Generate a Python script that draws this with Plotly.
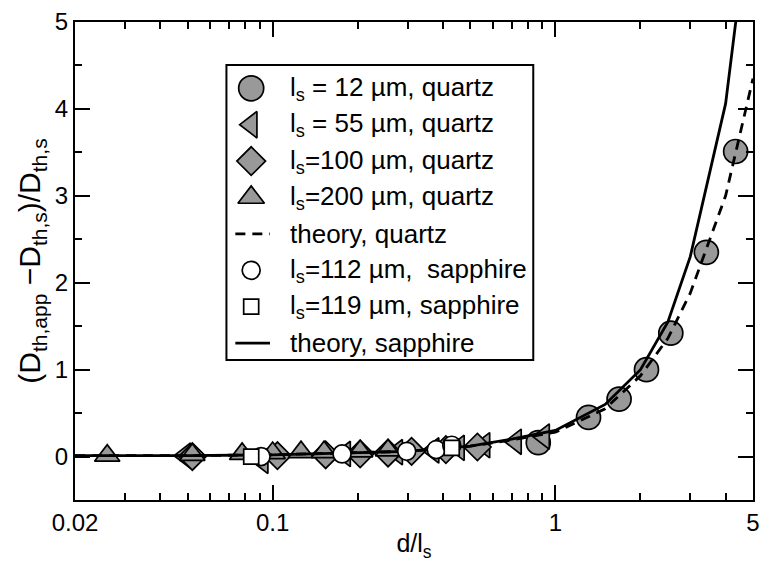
import plotly.graph_objects as go

# ---- measured data (d / l_s  vs  (D_th,app - D_th,s) / D_th,s) ----
q12_x = [0.87, 1.31, 1.68, 2.1, 2.56, 3.42, 4.34]
q12_y = [0.16, 0.45, 0.66, 1.0, 1.42, 2.35, 3.51]

q55_x = [0.049, 0.092, 0.18, 0.275, 0.37, 0.455, 0.56, 0.724, 0.91]
q55_y = [0.01, -0.05, 0.03, 0.05, 0.07, 0.1, 0.13, 0.17, 0.23]

q100_x = [0.052, 0.104, 0.154, 0.204, 0.256, 0.31, 0.41, 0.53]
q100_y = [0.0, 0.01, 0.02, 0.03, 0.04, 0.06, 0.08, 0.11]

q200_x = [0.026, 0.052, 0.078, 0.1, 0.126, 0.152, 0.204, 0.256]
q200_y = [0.01, 0.02, 0.03, 0.04, 0.05, 0.05, 0.06, 0.07]

s112_x = [0.091, 0.176, 0.298, 0.379, 0.43]
s112_y = [0.0, 0.03, 0.06, 0.08, 0.13]

s119_x = [0.084, 0.43]
s119_y = [0.0, 0.1]

theory_x = [0.02, 0.05, 0.1, 0.2, 0.3, 0.5, 0.7, 1.0, 1.5, 2.0, 2.5, 3.0, 4.0, 5.0]
theory_quartz = [0.01, 0.01, 0.02, 0.04, 0.06, 0.12, 0.19, 0.28, 0.55, 0.93, 1.36, 1.88, 3.0, 4.35]
theory_sapphire = [0.01, 0.01, 0.02, 0.04, 0.06, 0.12, 0.2, 0.3, 0.6, 1.0, 1.55, 2.3, 4.06, 6.6]

x_ticks = [0.02, 0.1, 1, 5]
x_ticktext = ["0.02", "0.1", "1", "5"]
x_minor = [0.03, 0.04, 0.05, 0.06, 0.07, 0.08, 0.09,
           0.2, 0.3, 0.4, 0.5, 0.6, 0.7, 0.8, 0.9, 2, 3, 4]
y_ticks = [0, 1, 2, 3, 4, 5]

legend_labels = [
    "l<sub>s</sub> = 12 µm, quartz",
    "l<sub>s</sub> = 55 µm, quartz",
    "l<sub>s</sub>=100 µm, quartz",
    "l<sub>s</sub>=200 µm, quartz",
    "theory, quartz",
    "l<sub>s</sub>=112 µm,  sapphire",
    "l<sub>s</sub>=119 µm, sapphire",
    "theory, sapphire",
]

GRAY = "#999999"
FONT = "Arial, Liberation Sans, sans-serif"

W, H = 767, 564
ML, MR, MT, MB = 75, 7, 22, 64
PW, PH = W - ML - MR, H - MT - MB


def px(x):
    return (x - ML) / PW


def py(y):
    return (H - MB - y) / PH


# marker styles shared by data traces and legend samples
styles = [
    dict(symbol="circle", size=24, color=GRAY),
    dict(symbol="triangle-left", size=22, color=GRAY),
    dict(symbol="diamond", size=21, color=GRAY),
    dict(symbol="triangle-up", size=22, color=GRAY),
    None,
    dict(symbol="circle", size=18, color="white"),
    dict(symbol="square", size=15, color="white"),
    None,
]

fig = go.Figure()


def add_points(xs, ys, st):
    fig.add_trace(go.Scatter(
        x=xs, y=ys, mode="markers", showlegend=False, cliponaxis=True,
        marker=dict(symbol=st["symbol"], size=st["size"], color=st["color"],
                    line=dict(color="black", width=1.7)),
    ))


add_points(q12_x, q12_y, styles[0])
add_points(q55_x, q55_y, styles[1])
add_points(q100_x, q100_y, styles[2])
add_points(q200_x, q200_y, styles[3])

fig.add_trace(go.Scatter(
    x=theory_x, y=theory_quartz, mode="lines", showlegend=False,
    line=dict(color="black", width=2.8, dash="10px,7px"),
))
fig.add_trace(go.Scatter(
    x=theory_x, y=theory_sapphire, mode="lines", showlegend=False,
    line=dict(color="black", width=2.8),
))

add_points(s112_x, s112_y, styles[5])
add_points(s119_x, s119_y, styles[6])

# ---- legend box drawn on an overlay axis in paper fractions ----
row0, row_step = 88.3, 36.4
rows = [row0 + i * row_step for i in range(len(legend_labels))]
mk_x = px(253)
for i, st in enumerate(styles):
    if st is None:
        continue
    fig.add_trace(go.Scatter(
        x=[mk_x], y=[py(rows[i])], xaxis="x2", yaxis="y2", mode="markers",
        showlegend=False, hoverinfo="skip",
        marker=dict(symbol=st["symbol"], size=st["size"] + (1 if i < 4 else 0),
                    color=st["color"], line=dict(color="black", width=1.7)),
    ))

shapes = [
    dict(type="rect", xref="paper", yref="paper",
         x0=px(228), x1=px(538), y0=py(360), y1=py(65),
         line=dict(color="black", width=2), fillcolor="white", layer="below"),
    dict(type="line", xref="paper", yref="paper",
         x0=px(237), x1=px(272), y0=py(rows[4]), y1=py(rows[4]),
         line=dict(color="black", width=2.8, dash="10px,7px")),
    dict(type="line", xref="paper", yref="paper",
         x0=px(237), x1=px(272), y0=py(rows[7]), y1=py(rows[7]),
         line=dict(color="black", width=2.8)),
]

annotations = [
    dict(x=px(290), y=py(r), xref="paper", yref="paper", text=t,
         showarrow=False, xanchor="left", yanchor="middle",
         font=dict(family=FONT, size=26, color="black"))
    for r, t in zip(rows, legend_labels)
]

axis_common = dict(
    showline=True, linecolor="black", linewidth=2, mirror="allticks",
    ticks="inside", tickcolor="black", tickwidth=2, ticklen=15,
    showgrid=False, zeroline=False,
    tickfont=dict(family=FONT, size=24, color="black"),
)

fig.update_layout(
    width=W, height=H,
    margin=dict(l=ML, r=MR, t=MT, b=MB),
    paper_bgcolor="white", plot_bgcolor="white",
    showlegend=False,
    shapes=shapes, annotations=annotations,
    xaxis=dict(
        type="log", range=[-1.69897, 0.69897],
        tickvals=x_ticks, ticktext=x_ticktext,
        minor=dict(tickvals=x_minor, ticks="inside", ticklen=7,
                   tickwidth=2, tickcolor="black", showgrid=False),
        title=dict(text="d/l<sub>s</sub>", standoff=0,
                   font=dict(family=FONT, size=25, color="black")),
        **axis_common,
    ),
    yaxis=dict(
        range=[-0.5, 5], tickvals=y_ticks,
        minor=dict(dtick=0.5, tick0=0, ticks="inside", ticklen=7,
                   tickwidth=2, tickcolor="black", showgrid=False),
        title=dict(text="(D<sub>th,app</sub> −D<sub>th,s</sub>)/D<sub>th,s</sub>",
                   standoff=5, font=dict(family=FONT, size=30, color="black")),
        **axis_common,
    ),
    xaxis2=dict(overlaying="x", range=[0, 1], visible=False, domain=[0, 1]),
    yaxis2=dict(overlaying="y", range=[0, 1], visible=False, domain=[0, 1]),
)

fig.write_html("out.html")
